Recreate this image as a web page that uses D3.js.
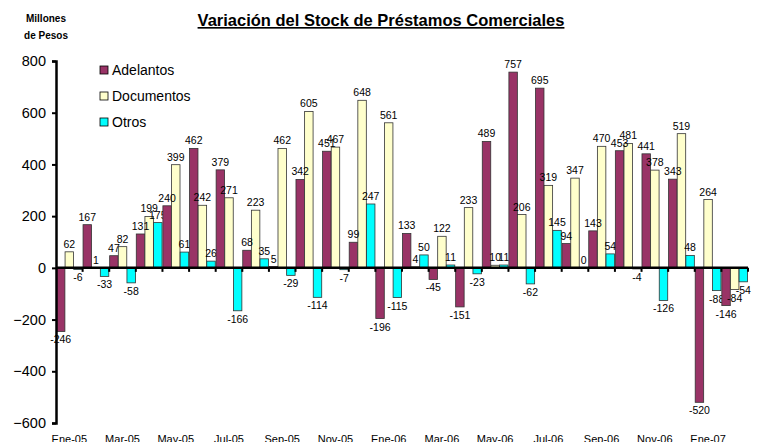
<!DOCTYPE html>
<html>
<head>
<meta charset="utf-8">
<script src="https://cdn.jsdelivr.net/npm/d3@7"></script>
<style>
  body { margin: 0; background: #fff; }
  text { font-family: "Liberation Sans", Arial, sans-serif; }
</style>
</head>
<body>
<div id="chart"></div>
<script>
// data
let months = ['Ene-05','Feb-05','Mar-05','Abr-05','May-05','Jun-05','Jul-05','Ago-05','Sep-05','Oct-05','Nov-05','Dic-05',
  'Ene-06','Feb-06','Mar-06','Abr-06','May-06','Jun-06','Jul-06','Ago-06','Sep-06','Oct-06','Nov-06','Dic-06',
  'Ene-07','Feb-07']
let adelantos = [-246, 167, 47, 131, 240, 462, 379, 68, 5, 342, 451, 99,
  -196, 133, -45, -151, 489, 757, 695, 94, 143, 453, 441, 343, -520, -146]
let documentos = [62, 1, 82, 199, 399, 242, 271, 223, 462, 605, 467, 648,
  561, 4, 122, 233, 10, 206, 319, 347, 470, 481, 378, 519, 264, -84]
let otros = [-6, -33, -58, 175, 61, 26, -166, 35, -29, -114, -7, 247,
  -115, 50, 11, -23, 11, -62, 145, 0, 54, -4, -126, 48, -88, -54]
let seriesNames = ['Adelantos', 'Documentos', 'Otros']
let yTicks = [800, 600, 400, 200, 0, -200, -400, -600]

function drawChart(selector) {
  let width = 758, height = 442
  let left = 56, right = 748, top = 61, bottom = 423

  let svg = d3.select(selector).append('svg')
    .attr('width', width).attr('height', height)

  let colors = d3.scaleOrdinal().domain(seriesNames).range(['#993366', '#FFFFCC', '#00FFFF'])

  let x = d3.scaleBand().domain(months).range([left, right]).paddingInner(0)
  let xs = d3.scaleBand().domain(seriesNames).range([0, x.bandwidth()]).paddingInner(0.02).paddingOuter(0.05)
  let y = d3.scaleLinear().domain([-600, 800]).range([bottom, top])

  let series = [adelantos, documentos, otros]

  // bars
  let groups = svg.selectAll('.month')
    .data(months)
    .enter().append('g')
    .attr('class', 'month')
    .attr('transform', d => 'translate(' + x(d) + ',0)')

  groups.selectAll('rect')
    .data((m, i) => seriesNames.map((s, k) => ({ name: s, v: series[k][i] })))
    .enter().append('rect')
    .attr('x', d => xs(d.name))
    .attr('width', xs.bandwidth())
    .attr('y', d => y(Math.max(0, d.v)))
    .attr('height', d => Math.abs(y(d.v) - y(0)))
    .attr('fill', d => colors(d.name))
    .attr('stroke', '#333')
    .attr('stroke-width', 0.8)

  groups.selectAll('text')
    .data((m, i) => seriesNames.map((s, k) => ({ name: s, v: series[k][i] })))
    .enter().append('text')
    .attr('x', d => xs(d.name) + xs.bandwidth() / 2)
    .attr('y', d => d.v >= 0 ? y(d.v) - 4 : y(d.v) + 12)
    .attr('text-anchor', 'middle')
    .style('font-size', '10.5px')
    .attr('fill', '#000')
    .text(d => d.v)

  // y axis
  let yAxis = svg.append('g')
    .attr('transform', 'translate(' + left + ',0)')
    .call(d3.axisLeft(y).tickValues(yTicks).tickSize(4).tickPadding(6))
  yAxis.select('.domain').attr('stroke', '#000').attr('stroke-width', 2.5)
  yAxis.selectAll('.tick line').attr('stroke', '#000').attr('stroke-width', 2)
  yAxis.selectAll('.tick text').style('font-size', '14.5px').attr('fill', '#000')
    .style('font-family', '"Liberation Sans", Arial, sans-serif')

  // x axis along zero line
  let zero = y(0)
  svg.append('line')
    .attr('x1', left).attr('x2', right)
    .attr('y1', zero).attr('y2', zero)
    .attr('stroke', '#000').attr('stroke-width', 2.5)
  svg.selectAll('.xtick')
    .data(months.slice(1).concat(['end']))
    .enter().append('line')
    .attr('x1', (d, i) => left + (i + 1) * x.step())
    .attr('x2', (d, i) => left + (i + 1) * x.step())
    .attr('y1', zero).attr('y2', zero + 4)
    .attr('stroke', '#000').attr('stroke-width', 2)

  svg.selectAll('.xlabel')
    .data(months.filter((d, i) => i % 2 == 0))
    .enter().append('text')
    .attr('x', d => x(d) + x.bandwidth() / 2)
    .attr('y', 443)
    .attr('text-anchor', 'middle')
    .style('font-size', '11px')
    .text(d => d)

  // title
  svg.append('text')
    .attr('x', 381).attr('y', 26)
    .attr('text-anchor', 'middle')
    .style('font-size', '16.5px').style('font-weight', 'bold')
    .style('text-decoration', 'underline')
    .text('Variación del Stock de Préstamos Comerciales')

  svg.append('text').attr('x', 46).attr('y', 22).attr('text-anchor', 'middle')
    .style('font-size', '10px').style('font-weight', 'bold').text('Millones')
  svg.append('text').attr('x', 46).attr('y', 39).attr('text-anchor', 'middle')
    .style('font-size', '10px').style('font-weight', 'bold').text('de Pesos')

  // legend
  let legend = svg.selectAll('.legend')
    .data(seriesNames)
    .enter().append('g')
    .attr('class', 'legend')
    .attr('transform', (d, i) => 'translate(100,' + (70 + i * 26) + ')')
  legend.append('rect')
    .attr('x', 0).attr('y', -4).attr('width', 8).attr('height', 8)
    .attr('fill', d => colors(d)).attr('stroke', '#000').attr('stroke-width', 0.8)
  legend.append('text')
    .attr('x', 12).attr('y', 5)
    .style('font-size', '14px')
    .text(d => d)

  return svg
}

drawChart('#chart')
</script>
</body>
</html>
